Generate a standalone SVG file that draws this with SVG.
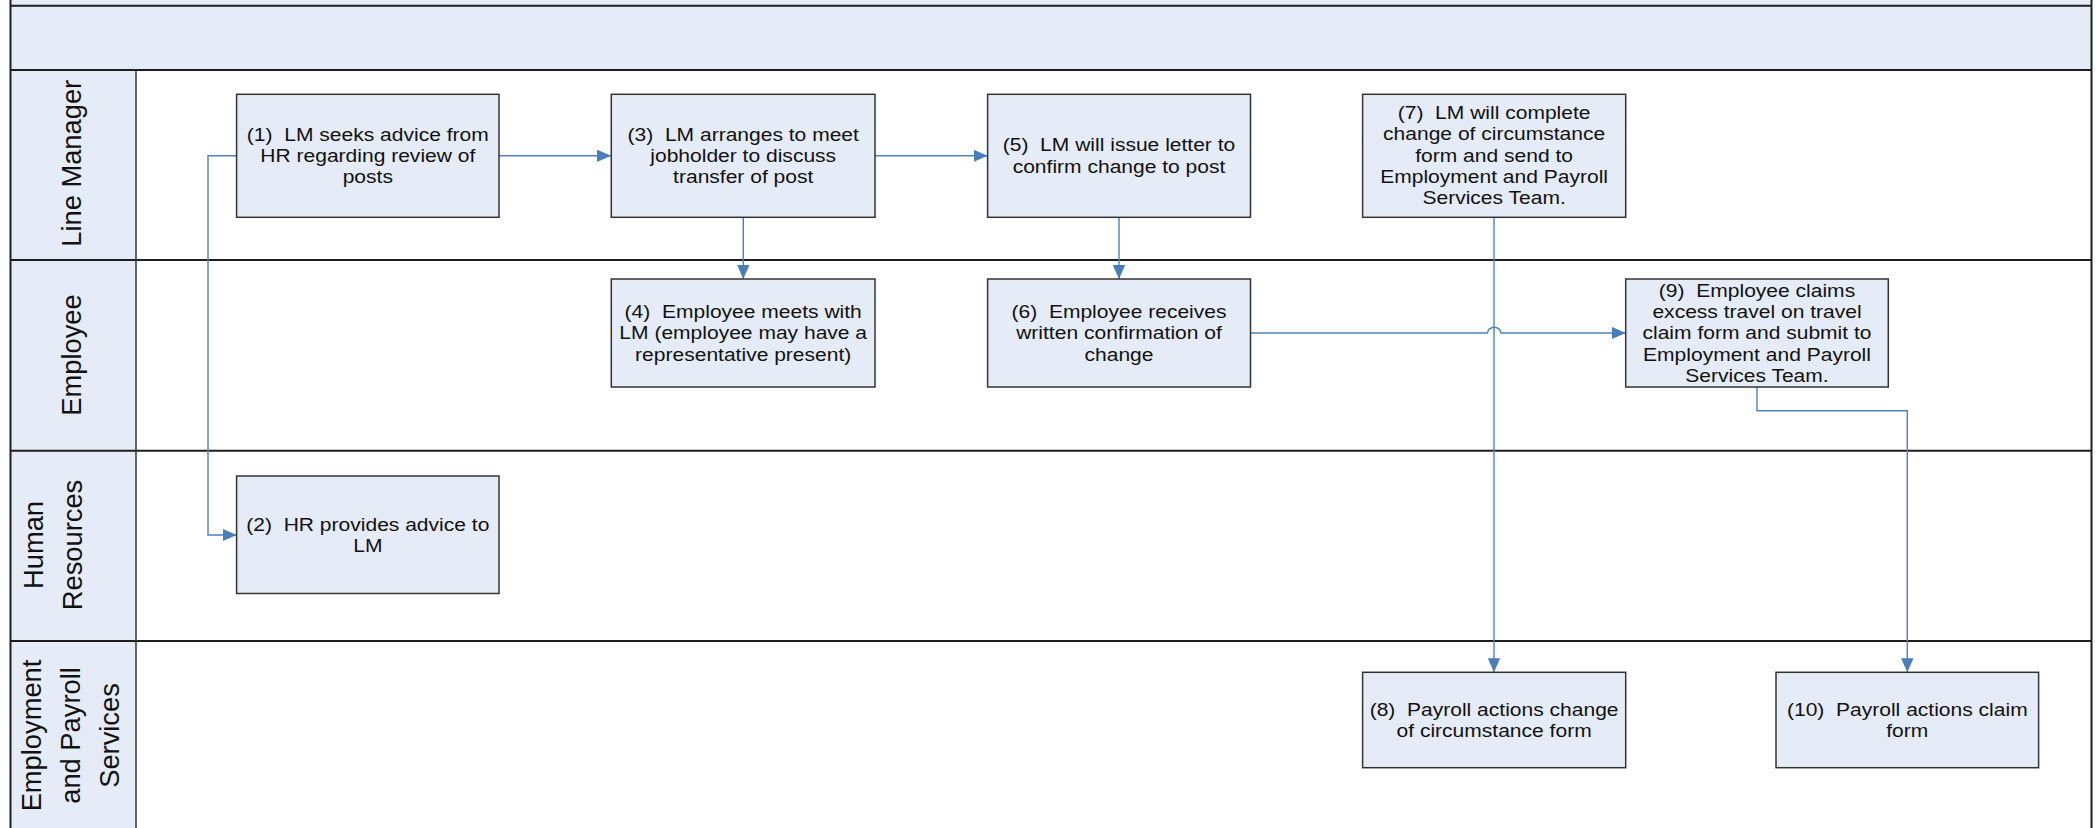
<svg xmlns="http://www.w3.org/2000/svg" width="2098" height="828" viewBox="0 0 2098 828">
<defs>
<style>
.lane{stroke:#1e1e1e;stroke-width:2;fill:none}
.hdr{fill:#e6ecf7}
.box{fill:#e6ecf7;stroke:#333;stroke-width:1.5}
.t{font-family:"Liberation Sans",Arial,sans-serif;font-size:18.7px;fill:#111;text-anchor:middle}
.lt{font-family:"Liberation Sans",Arial,sans-serif;font-size:27.3px;fill:#111;text-anchor:middle}
.c{fill:none;stroke:#4f81bd;stroke-width:1.4}
</style>
<marker id="ah" markerUnits="userSpaceOnUse" markerWidth="15" markerHeight="14" refX="14" refY="6.2" orient="auto">
<path d="M0,0 L14,6.2 L0,12.4 z" fill="#4a7ebb"/>
</marker>
</defs>
<rect x="0" y="0" width="2098" height="828" fill="#fff"/>
<g id="pool">
<rect class="hdr" x="10.5" y="0" width="2081" height="70"/>
<rect class="hdr" x="10.5" y="70" width="125.5" height="760"/>
<line class="lane" x1="10.5" y1="5.7" x2="2091.5" y2="5.7"/>
<line class="lane" x1="10.5" y1="70" x2="2091.5" y2="70"/>
<line class="lane" x1="10.5" y1="260" x2="2091.5" y2="260"/>
<line class="lane" x1="10.5" y1="450.7" x2="2091.5" y2="450.7"/>
<line class="lane" x1="10.5" y1="641" x2="2091.5" y2="641"/>
<line class="lane" x1="10.5" y1="0" x2="10.5" y2="828"/>
<line class="lane" x1="2091.5" y1="0" x2="2091.5" y2="828"/>
<line class="lane" x1="136" y1="70" x2="136" y2="828" style="stroke:#333;stroke-width:1.5"/>
</g>
<g id="lane-labels">
<text class="lt" transform="translate(80.5 163.3) rotate(-90)">Line Manager</text>
<text class="lt" transform="translate(80.5 355) rotate(-90)">Employee</text>
<text class="lt" transform="translate(43 545) rotate(-90)">Human</text>
<text class="lt" transform="translate(82 545) rotate(-90)">Resources</text>
<text class="lt" transform="translate(40.8 735.5) rotate(-90)">Employment</text>
<text class="lt" transform="translate(79.8 735.5) rotate(-90)">and Payroll</text>
<text class="lt" transform="translate(118.8 735.5) rotate(-90)">Services</text>
</g>
<g id="connectors">
<path class="c" d="M499,155.8 H611" marker-end="url(#ah)"/>
<path class="c" d="M875,155.8 H987.5" marker-end="url(#ah)"/>
<path class="c" d="M743.3,217.3 V279" marker-end="url(#ah)"/>
<path class="c" d="M1119,217.3 V279" marker-end="url(#ah)"/>
<path class="c" d="M236.6,155.8 H208 V535 H236.6" marker-end="url(#ah)"/>
<path class="c" d="M1250.5,333 H1487.5 A6.7 5.8 0 0 1 1500.9,333 H1625.7" marker-end="url(#ah)"/>
<path class="c" d="M1494,217.3 V672.3" marker-end="url(#ah)"/>
<path class="c" d="M1757,387 V410.7 H1907.3 V672.3" marker-end="url(#ah)"/>
</g>
<g id="n1">
<rect class="box" x="236.6" y="94.3" width="262.4" height="123"/>
<text class="t" transform="translate(367.8 0) scale(1.125 1)"><tspan x="0" y="141.5">(1)&#160; LM seeks advice from</tspan><tspan x="0" y="162.5">HR regarding review of</tspan><tspan x="0" y="183.5">posts</tspan></text>
</g>
<g id="n2">
<rect class="box" x="236.6" y="476" width="262.4" height="117.5"/>
<text class="t" transform="translate(367.8 0) scale(1.125 1)"><tspan x="0" y="531">(2)&#160; HR provides advice to</tspan><tspan x="0" y="552.5">LM</tspan></text>
</g>
<g id="n3">
<rect class="box" x="611.3" y="94.3" width="263.7" height="123"/>
<text class="t" transform="translate(743.2 0) scale(1.125 1)"><tspan x="0" y="141.5">(3)&#160; LM arranges to meet</tspan><tspan x="0" y="162.5">jobholder to discuss</tspan><tspan x="0" y="183.5">transfer of post</tspan></text>
</g>
<g id="n4">
<rect class="box" x="611.3" y="279" width="263.7" height="108"/>
<text class="t" transform="translate(743.2 0) scale(1.125 1)"><tspan x="0" y="318.3">(4)&#160; Employee meets with</tspan><tspan x="0" y="339.5">LM (employee may have a</tspan><tspan x="0" y="360.7">representative present)</tspan></text>
</g>
<g id="n5">
<rect class="box" x="987.6" y="94.3" width="262.9" height="123"/>
<text class="t" transform="translate(1119 0) scale(1.125 1)"><tspan x="0" y="151.5">(5)&#160; LM will issue letter to</tspan><tspan x="0" y="172.7">confirm change to post</tspan></text>
</g>
<g id="n6">
<rect class="box" x="987.6" y="279" width="262.9" height="108"/>
<text class="t" transform="translate(1119 0) scale(1.125 1)"><tspan x="0" y="318.3">(6)&#160; Employee receives</tspan><tspan x="0" y="339.5">written confirmation of</tspan><tspan x="0" y="360.7">change</tspan></text>
</g>
<g id="n7">
<rect class="box" x="1362.6" y="94.3" width="263.1" height="123"/>
<text class="t" transform="translate(1494.1 0) scale(1.125 1)"><tspan x="0" y="119.2">(7)&#160; LM will complete</tspan><tspan x="0" y="140.5">change of circumstance</tspan><tspan x="0" y="161.8">form and send to</tspan><tspan x="0" y="183.1">Employment and Payroll</tspan><tspan x="0" y="204.4">Services Team.</tspan></text>
</g>
<g id="n8">
<rect class="box" x="1362.6" y="672.3" width="263.1" height="95.4"/>
<text class="t" transform="translate(1494.1 0) scale(1.125 1)"><tspan x="0" y="716">(8)&#160; Payroll actions change</tspan><tspan x="0" y="737.3">of circumstance form</tspan></text>
</g>
<g id="n9">
<rect class="box" x="1625.7" y="279" width="262.6" height="108"/>
<text class="t" transform="translate(1757 0) scale(1.125 1)"><tspan x="0" y="296.7">(9)&#160; Employee claims</tspan><tspan x="0" y="318">excess travel on travel</tspan><tspan x="0" y="339.3">claim form and submit to</tspan><tspan x="0" y="360.6">Employment and Payroll</tspan><tspan x="0" y="381.9">Services Team.</tspan></text>
</g>
<g id="n10">
<rect class="box" x="1776" y="672.3" width="262.6" height="95.4"/>
<text class="t" transform="translate(1907.3 0) scale(1.125 1)"><tspan x="0" y="716">(10)&#160; Payroll actions claim</tspan><tspan x="0" y="737.3">form</tspan></text>
</g>
</svg>
